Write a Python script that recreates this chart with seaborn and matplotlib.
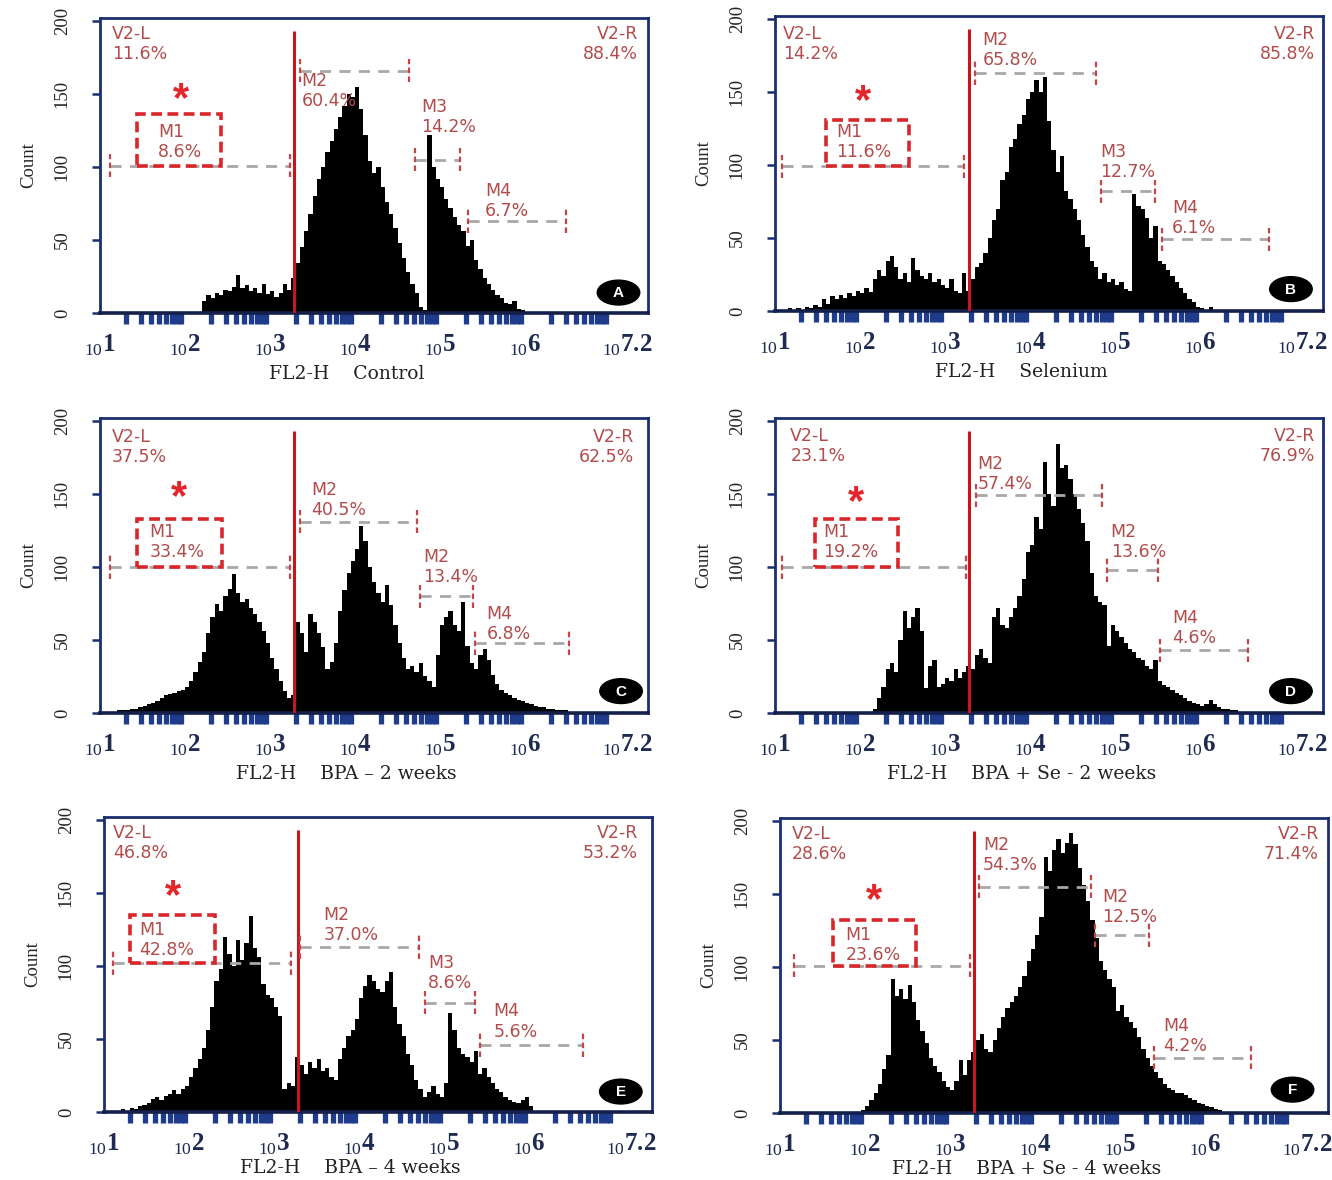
import matplotlib
matplotlib.use('Agg')
import matplotlib.pyplot as plt
import seaborn as sns
import numpy as np
import pandas as pd
from matplotlib.patches import Ellipse, Rectangle

##### DATA #####
panels = ['A', 'B', 'C', 'D', 'E', 'F']
conditions = ['Control', 'Selenium', 'BPA \u2013 2 weeks', 'BPA + Se - 2 weeks',
              'BPA \u2013 4 weeks', 'BPA + Se - 4 weeks']

bin_width = 0.05                      # log10 units
hist_start = [2.20, 1.15, 1.05, 2.15, 1.20, 1.95]

counts_A = [8, 12, 10, 14, 12, 16, 15, 18, 26, 17, 19, 15, 17, 14, 20, 13, 15, 11, 14, 20,
            16, 24, 34, 45, 56, 68, 80, 92, 100, 110, 118, 126, 134, 142, 150, 148, 155, 140,
            122, 104, 96, 100, 86, 76, 68, 58, 48, 38, 28, 20, 14, 4, 2, 122, 100, 92, 86, 78,
            72, 66, 60, 56, 46, 50, 36, 30, 24, 20, 16, 12, 10, 7, 6, 8, 3, 2, 1]
counts_B = [2, 1, 2, 1, 3, 2, 4, 3, 8, 5, 10, 8, 11, 9, 12, 10, 14, 12, 16, 13, 22, 28, 24, 34,
            38, 30, 22, 26, 20, 36, 28, 24, 22, 26, 20, 22, 18, 16, 22, 14, 12, 26, 14, 22, 30,
            33, 40, 50, 62, 70, 90, 95, 112, 118, 128, 134, 145, 150, 158, 150, 160, 130, 110,
            95, 106, 82, 77, 70, 62, 52, 44, 34, 30, 22, 26, 20, 22, 18, 20, 15, 14, 80, 72, 70,
            64, 50, 58, 34, 32, 28, 24, 20, 16, 12, 8, 6, 3, 2, 1, 3, 1]
counts_C = [1, 1, 1, 2, 2, 2, 3, 3, 4, 5, 6, 7, 8, 10, 12, 13, 14, 15, 16, 18, 22, 28, 35, 42,
            55, 66, 75, 70, 80, 85, 95, 82, 76, 78, 72, 68, 62, 56, 48, 38, 30, 22, 15, 10, 12,
            62, 55, 42, 68, 62, 55, 45, 30, 35, 48, 70, 84, 96, 104, 112, 128, 118, 100, 90, 82,
            76, 88, 74, 60, 48, 38, 30, 32, 28, 34, 25, 22, 18, 40, 60, 66, 70, 60, 56, 76, 46,
            34, 30, 40, 44, 36, 26, 20, 16, 14, 12, 10, 9, 8, 7, 6, 5, 4, 4, 3, 3, 2, 2, 2, 1]
counts_D = [3, 10, 18, 30, 34, 28, 50, 70, 58, 66, 72, 56, 17, 32, 36, 18, 20, 24, 22, 30, 24,
            28, 32, 30, 40, 44, 38, 34, 66, 72, 60, 58, 66, 72, 80, 92, 110, 115, 134, 126, 172,
            150, 142, 184, 168, 170, 160, 150, 140, 130, 118, 96, 80, 76, 74, 46, 60, 56, 52, 48,
            44, 42, 38, 36, 32, 30, 36, 22, 19, 18, 16, 14, 12, 10, 8, 7, 6, 5, 6, 9, 6, 4, 3, 3,
            2, 2, 1]
counts_E = [2, 1, 3, 2, 4, 5, 6, 9, 10, 8, 11, 12, 15, 12, 16, 18, 24, 30, 36, 44, 56, 72, 90,
            98, 120, 108, 100, 118, 104, 116, 134, 112, 106, 88, 80, 78, 72, 66, 16, 20, 18, 38,
            32, 26, 34, 30, 36, 28, 30, 24, 22, 36, 44, 52, 56, 64, 78, 86, 94, 90, 84, 82, 90,
            96, 72, 60, 52, 40, 32, 22, 16, 10, 14, 18, 12, 10, 20, 68, 56, 44, 40, 38, 34, 42,
            26, 30, 24, 20, 16, 14, 10, 8, 7, 6, 8, 10, 4, 1]
counts_F = [2, 5, 9, 14, 20, 30, 40, 92, 80, 85, 78, 88, 76, 64, 56, 48, 38, 32, 28, 22, 18, 16,
            22, 36, 26, 36, 42, 50, 54, 44, 42, 50, 58, 66, 72, 76, 80, 86, 94, 104, 112, 122,
            134, 175, 166, 180, 188, 178, 185, 192, 184, 168, 156, 145, 132, 120, 104, 98, 92,
            86, 70, 74, 66, 62, 58, 52, 44, 38, 32, 28, 24, 20, 17, 16, 14, 14, 12, 10, 9, 7, 6,
            5, 4, 3, 2, 1]
all_counts = [counts_A, counts_B, counts_C, counts_D, counts_E, counts_F]

v2_split = 3.28
v2l_pct = [11.6, 14.2, 37.5, 23.1, 46.8, 28.6]
v2r_pct = [88.4, 85.8, 62.5, 76.9, 53.2, 71.4]

gate_names = [['M1', 'M2', 'M3', 'M4'], ['M1', 'M2', 'M3', 'M4'], ['M1', 'M2', 'M2', 'M4'],
              ['M1', 'M2', 'M2', 'M4'], ['M1', 'M2', 'M3', 'M4'], ['M1', 'M2', 'M2', 'M4']]
gate_pct = [[8.6, 60.4, 14.2, 6.7], [11.6, 65.8, 12.7, 6.1], [33.4, 40.5, 13.4, 6.8],
            [19.2, 57.4, 13.6, 4.6], [42.8, 37.0, 8.6, 5.6], [23.6, 54.3, 12.5, 4.2]]
gate_lo = [[1.12, 3.35, 4.70, 5.33], [1.08, 3.35, 4.83, 5.55], [1.12, 3.35, 4.77, 5.41],
           [1.08, 3.36, 4.90, 5.53], [1.11, 3.31, 4.78, 5.42], [1.16, 3.34, 4.71, 5.40]]
gate_hi = [[3.24, 4.64, 5.23, 6.48], [3.22, 4.78, 5.47, 6.81], [3.24, 4.73, 5.39, 6.52],
           [3.25, 4.85, 5.50, 6.57], [3.20, 4.71, 5.37, 6.63], [3.24, 4.66, 5.34, 6.54]]
gate_level = [[101, 166, 105, 63], [99, 163, 82, 49], [100, 131, 80, 48],
              [100, 149, 98, 43], [102, 113, 75, 46], [101, 155, 122, 38]]

x_ticks = [1, 2, 3, 4, 5, 6, 7.2]
x_tick_exp = ['1', '2', '3', '4', '5', '6', '7.2']
y_ticks = [0, 50, 100, 150, 200]
#####

##### LAYOUT #####
# pixel frame of each panel: (x of 10^1, y of count 0)
frame_px = [(100, 313), (775, 311), (100, 713), (775, 713), (104, 1112), (780, 1113)]
xlabel_y = [-0.175, -0.175, -0.175, -0.175, -0.16, -0.16]
v2l_xy = [(1.14, 184), (1.09, 183), (1.14, 182), (1.18, 183), (1.11, 184), (1.14, 184)]
v2r_x = [7.33, 7.35, 7.28, 7.35, 7.28, 7.34]
m1_box = [(1.43, 2.42, 136), (1.60, 2.58, 131), (1.44, 2.44, 133),
          (1.47, 2.45, 133), (1.31, 2.31, 135), (1.62, 2.60, 132)]
star_xy = [(1.95, 146), (2.03, 143), (1.93, 147), (1.95, 144), (1.81, 147), (2.11, 145)]
gate_text_xy = [[(1.68, 117), (3.37, 152), (4.78, 134), (5.53, 77)],
                [(1.72, 116), (3.44, 179), (4.83, 102), (5.67, 64)],
                [(1.58, 117), (3.48, 146), (4.80, 100), (5.55, 61)],
                [(1.57, 117), (3.38, 164), (4.95, 117), (5.67, 58)],
                [(1.41, 118), (3.58, 128), (4.81, 95), (5.58, 62)],
                [(1.77, 115), (3.39, 177), (4.79, 141), (5.51, 53)]]
letter_xy = [(7.10, 14), (7.07, 15), (7.13, 15), (7.07, 15), (7.08, 14), (7.03, 16)]

W, H = 1332, 1180
px_per_dec = 85
xlim = (1.0, 7.45)
ylim = (0, 202)
px_per_count = 1.46

navy = '#1b2f70'
tick_blue = '#1f3c8c'
label_navy = '#1e2a50'
txt_red = '#b24c4c'
cap_red = '#c2474a'
box_red = '#d8262b'
line_red = '#c8141c'
gate_grey = '#a8a8a8'
label_font = ['DejaVu Sans']
#####

sns.set_style('white')
plt.rcParams['font.family'] = ['Liberation Sans', 'DejaVu Sans']
plt.rcParams['mathtext.fontset'] = 'custom'
plt.rcParams['mathtext.rm'] = 'Liberation Serif'
plt.rcParams['mathtext.bf'] = 'Liberation Serif:bold'

rows = []
for p, start, cnts in zip(panels, hist_start, all_counts):
    for i, c in enumerate(cnts):
        rows.append({'panel': p, 'fl2h': start + bin_width * (i + 0.5), 'count': c})
df = pd.DataFrame(rows)

fig = plt.figure(figsize=(W / 100, H / 100), dpi=100)

minor = [d + np.log10(k) for d in range(1, 7) for k in range(2, 10)]
xlabels = [r'${}_{\mathregular{10}}\mathbf{%s}$' % e for e in x_tick_exp]

for i, p in enumerate(panels):
    x0, y0 = frame_px[i]
    wpx = (xlim[1] - xlim[0]) * px_per_dec
    hpx = (ylim[1] - ylim[0]) * px_per_count
    ax = fig.add_axes([x0 / W, 1 - y0 / H, wpx / W, hpx / H])

    sub = df[df.panel == p]
    start = hist_start[i]
    n = len(all_counts[i])
    sns.histplot(data=sub, x='fl2h', weights='count', binwidth=bin_width,
                 binrange=(start, start + bin_width * n), element='step',
                 fill=True, color='black', alpha=1, linewidth=0, ax=ax)

    ax.set_xlim(*xlim)
    ax.set_ylim(*ylim)

    # V2 split line
    ax.vlines(v2_split, 0, 193, colors=line_red, lw=2.2, zorder=4)

    # gates
    for j in range(4):
        lo, hi, lev = gate_lo[i][j], gate_hi[i][j], gate_level[i][j]
        ax.hlines(lev, lo, hi, colors=gate_grey, linestyles=(0, (4, 3)), lw=2, zorder=5)
        ax.vlines([lo, hi], lev - 8, lev + 8, colors=cap_red, linestyles=(0, (2.5, 1.5)),
                  lw=1.6, zorder=5)
        tx, ty = gate_text_xy[i][j]
        ax.text(tx, ty, '%s\n%.1f%%' % (gate_names[i][j], gate_pct[i][j]), color=txt_red,
                fontsize=12.5, family=label_font, ha='left', va='center',
                linespacing=1.15, zorder=6)

    bx0, bx1, btop = m1_box[i]
    blev = gate_level[i][0]
    ax.add_patch(Rectangle((bx0, blev), bx1 - bx0, btop - blev, fill=False, ec=box_red,
                           lw=2.6, ls=(0, (3, 1.5)), zorder=6))
    sx, sy = star_xy[i]
    ax.text(sx, sy, '*', color='#e3262b', fontsize=30, ha='center', va='center',
            fontweight='bold', zorder=6)

    vx, vy = v2l_xy[i]
    ax.text(vx, vy, 'V2-L\n%.1f%%' % v2l_pct[i], color=txt_red, fontsize=12.5,
            family=label_font, ha='left', va='center', linespacing=1.15)
    ax.text(v2r_x[i], vy, 'V2-R\n%.1f%%' % v2r_pct[i], color=txt_red, fontsize=12.5,
            family=label_font, ha='right', va='center', linespacing=1.15)

    lx, ly = letter_xy[i]
    ax.add_patch(Ellipse((lx, ly), 0.5, 17, color='black', zorder=6))
    ax.text(lx, ly - 0.5, p, color='white', fontsize=11, fontweight='bold',
            ha='center', va='center', zorder=7)

    # axes styling
    for s in ax.spines.values():
        s.set_color(navy)
        s.set_linewidth(2)
    ax.spines['bottom'].set_linewidth(2.6)
    ax.spines['bottom'].set_color('#14204a')

    ax.set_xticks(x_ticks)
    ax.set_xticklabels(xlabels, fontsize=18, family='Liberation Serif', color=label_navy)
    ax.set_xticks(minor, minor=True)
    ax.tick_params(axis='x', which='major', length=0, pad=14)
    ax.tick_params(axis='x', which='minor', bottom=True, direction='out', length=8,
                   width=3.8, color=tick_blue)
    ax.set_yticks(y_ticks)
    ax.set_yticklabels([str(v) for v in y_ticks], rotation=90, va='center',
                       fontsize=13.5, family='Liberation Serif')
    ax.tick_params(axis='y', direction='out', length=6, width=1.8, color=navy, pad=15,
                   left=True)

    ax.set_ylabel('Count', family='Liberation Serif', fontsize=13.5, labelpad=12)
    ax.set_xlabel('FL2-H    ' + conditions[i], family='DejaVu Serif', fontsize=13.5,
                  color='#222222')
    ax.xaxis.set_label_coords(0.45, xlabel_y[i])

fig.savefig('out.png', dpi=100)
